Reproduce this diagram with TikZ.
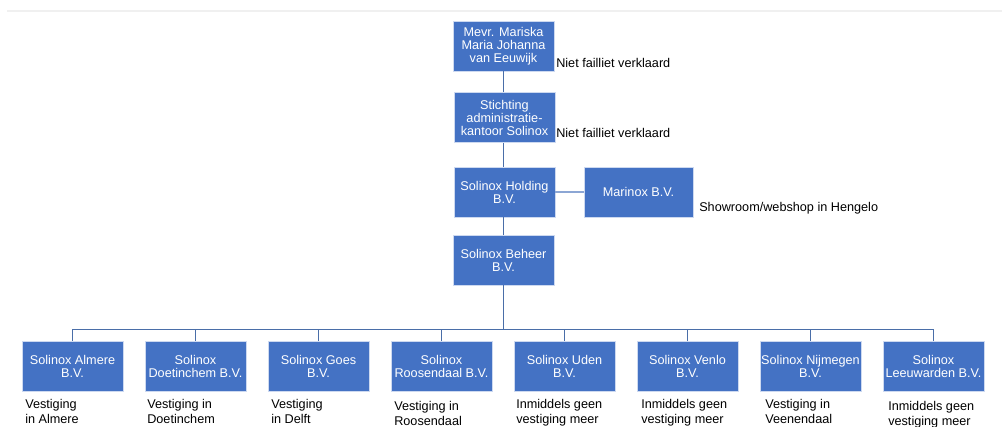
\documentclass[tikz,border=0pt]{standalone}
\usepackage{fontspec}
\setmainfont{Liberation Sans}
\definecolor{orgblue}{RGB}{68,114,196}
\definecolor{orgedge}{RGB}{205,217,240}
\definecolor{orgline}{RGB}{74,110,168}
\definecolor{orglight}{RGB}{140,166,212}
\tikzset{
    unit/.style={
        rectangle, fill=orgblue, draw=orgedge, line width=0.5pt,
        text=white, align=center, inner sep=1pt,
        minimum width=75.75pt, minimum height=37.5pt,
        font=\fontsize{9.5}{9.75}\selectfont
    },
    link/.style={draw=orgline, line width=1.1pt},
    remark/.style={anchor=base west, inner sep=0pt, align=left,
        font=\fontsize{9.5}{11.25}\selectfont}
}

\begin{document}
\begin{tikzpicture}[x=0.75pt,y=-0.75pt]
            \useasboundingbox (0,0) rectangle (1002,426);
            \draw[black!6, line width=2pt] (7,11) -- (1002,11);
            % top of the chain
            \node[unit] (owner) at (503.5,46) {Mevr. Mariska\\Maria Johanna\\van Eeuwijk};
            \node[unit] (stak) at (504.5,117.5) {Stichting\\administratie-\\kantoor Solinox};
            \node[unit] (holding) at (504.5,192) {Solinox Holding\\B.V.};
            \node[unit, minimum width=81.75pt] (marinox) at (638.5,192) {Marinox B.V.};
            \node[unit] (beheer) at (503.5,260) {Solinox Beheer\\B.V.};
            \draw[link] (owner.south) -- (owner.south |- stak.north);
            \draw[link] (owner.south |- stak.south) -- (owner.south |- holding.north);
            \draw[link] (owner.south |- holding.south) -- (beheer.north);
            \draw[link, draw=orglight, line width=0.8pt] (holding) -- (marinox);
            \node[remark] (fail1) at (556,67) {Niet failliet verklaard};
            \node[remark] (fail2) at (556,137) {Niet failliet verklaard};
            \node[remark] (shop) at (699,211) {Showroom/webshop in Hengelo};
            % vestigingen (note position = baseline of its last line)
            \foreach \i/\cx/\title/\note/\nx/\ny in {
                1/72.5/{Solinox Almere\\B.V.}/{Vestiging\\in Almere}/25/423,
                2/195.5/{Solinox\\Doetinchem B.V.}/{Vestiging in\\Doetinchem}/147/423,
                3/318.5/{Solinox Goes\\B.V.}/{Vestiging\\in Delft}/271/423,
                4/441.5/{Solinox\\Roosendaal B.V.}/{Vestiging in\\Roosendaal}/394/425,
                5/564.5/{Solinox Uden\\B.V.}/{Inmiddels geen\\vestiging meer}/516/423,
                6/687.5/{Solinox Venlo\\B.V.}/{Inmiddels geen\\vestiging meer}/641/423,
                7/810.5/{Solinox Nijmegen\\B.V.}/{Vestiging in\\Veenendaal}/765/423,
                8/933.5/{Solinox\\Leeuwarden B.V.}/{Inmiddels geen\\vestiging meer}/888/425}
            {
                \node[unit] (b\i) at (\cx,366) {\title};
                \draw[link] (beheer.south) -- ++(0,44) -| (b\i.north);
                \node[remark] (n\i) at (\nx,\ny) {\note};
            }
\end{tikzpicture}
\end{document}
